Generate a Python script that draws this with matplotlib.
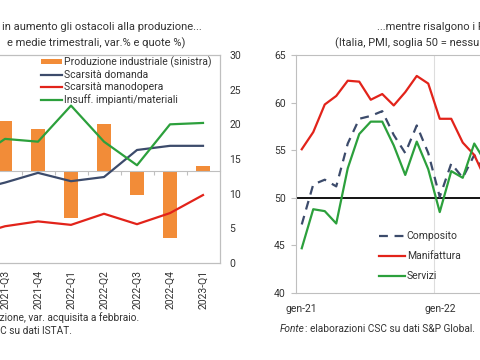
import matplotlib
matplotlib.use('Agg')
import matplotlib.pyplot as plt
import numpy as np

plt.rcParams['font.family'] = ['Roboto', 'DejaVu Sans']

# left panel: quarterly data
quarters = ['2021-Q2', '2021-Q3', '2021-Q4', '2022-Q1', '2022-Q2',
            '2022-Q3', '2022-Q4', '2023-Q1']
prod_ind = [1.1, 1.08, 0.89, -1.02, 1.0, -0.52, -1.45, 0.09]
scars_domanda = [10.4, 11.6, 13.0, 11.8, 12.4, 16.3, 16.9, 16.9]
scars_manodopera = [3.9, 5.3, 6.0, 5.5, 7.1, 5.6, 7.2, 9.8]
insuff_impianti = [14.7, 17.9, 17.5, 22.7, 17.5, 14.1, 20.0, 20.2]

# right panel: monthly PMI
months = ['gen-21', 'feb-21', 'mar-21', 'apr-21', 'mag-21', 'giu-21',
          'lug-21', 'ago-21', 'set-21', 'ott-21', 'nov-21', 'dic-21',
          'gen-22', 'feb-22', 'mar-22', 'apr-22', 'mag-22', 'giu-22']
composito = [47.2, 51.4, 51.9, 51.2, 55.7, 58.3, 58.6, 59.1, 56.6, 54.7,
             57.6, 54.7, 50.1, 53.6, 52.1, 54.5, 52.4, 51.3]
manifattura = [55.1, 56.9, 59.8, 60.7, 62.3, 62.2, 60.3, 60.9, 59.7, 61.1,
               62.8, 62.0, 58.3, 58.3, 55.8, 54.5, 51.9, 50.9]
servizi = [44.7, 48.8, 48.6, 47.3, 53.1, 56.7, 58.0, 58.0, 55.5, 52.4,
           55.9, 53.0, 48.5, 52.8, 52.1, 55.7, 53.7, 51.6]

ORANGE = '#F28C38'
BLUE = '#3C4B6B'
RED = '#E2231A'
GREEN = '#2CA03C'
FRAME = '#BFBFBF'
TXT = '#333333'

W, H = 480, 360
fig = plt.figure(figsize=(W / 100, H / 100), dpi=100)


def fx(px):
    return px / W


def fy(py):
    return 1 - py / H


# ---------------- left panel ----------------
axl = fig.add_axes([fx(-44.5), fy(263), fx(264), 208 / H])
xq = np.arange(len(quarters))
bars = axl.bar(xq, prod_ind, width=0.4, color=ORANGE, zorder=2)
axl.set_ylim(-2, 2.5)
axl.set_xlim(-0.5, len(quarters) - 0.5)
axl.spines['bottom'].set_position(('data', 0))
for s in axl.spines.values():
    s.set_color(FRAME)
    s.set_linewidth(0.8)
axl.set_xticks(xq[:-1] + 0.5)
axl.tick_params(axis='x', length=3, color=FRAME, labelbottom=False)
axl.tick_params(axis='y', length=0, labelleft=False)

sec = axl.secondary_xaxis(0)
sec.set_xticks(xq)
sec.set_xticklabels(quarters, rotation=90, fontsize=7.5, color=TXT)
sec.tick_params(length=0, pad=5)
sec.spines['bottom'].set_color(FRAME)

axr = axl.twinx()
l1, = axr.plot(xq, scars_domanda, color=BLUE, lw=1.6)
l2, = axr.plot(xq, scars_manodopera, color=RED, lw=1.6)
l3, = axr.plot(xq, insuff_impianti, color=GREEN, lw=1.6)
axr.set_ylim(0, 30)
axr.set_yticks(range(0, 31, 5))
axr.tick_params(axis='y', length=0, pad=7, labelsize=7.5, labelcolor=TXT)
for s in axr.spines.values():
    s.set_color(FRAME)
    s.set_linewidth(0.8)

axr.legend([bars, l1, l2, l3],
           ['Produzione industriale (sinistra)', 'Scarsità domanda',
            'Scarsità manodopera', 'Insuff. impianti/materiali'],
           loc='upper right', bbox_to_anchor=(0.985, 1.015), frameon=False,
           fontsize=7.5, handlelength=2.0, handleheight=0.4,
           handletextpad=0.15, labelspacing=0.22, borderaxespad=0,
           labelcolor=TXT)

fig.text(fx(202), fy(27), 'in aumento gli ostacoli alla produzione...',
         ha='right', va='center', fontsize=8.0, color=TXT)
fig.text(fx(185), fy(43), 'e medie trimestrali, var.% e quote %)',
         ha='right', va='center', fontsize=8.0, color=TXT)
fig.text(fx(139), fy(318), 'produzione, var. acquisita a febbraio.',
         ha='right', va='center', fontsize=7.3, color=TXT)
fig.text(fx(72), fy(331), 'Fonte: elaborazioni CSC su dati ISTAT.',
         ha='right', va='center', fontsize=7.3, color=TXT)

# ---------------- right panel ----------------
ax = fig.add_axes([fx(296), fy(293), fx(299), 238 / H])
xm = np.arange(len(months))
ax.axvline(11.5, color='#DDDDDD', lw=0.8, zorder=0)
ax.axhline(50, color='black', lw=1.3, zorder=1)
ax.plot(xm, composito, color=BLUE, lw=1.6, ls=(0, (4, 3)), label='Composito')
ax.plot(xm, manifattura, color=RED, lw=1.6, label='Manifattura')
ax.plot(xm, servizi, color=GREEN, lw=1.6, label='Servizi')
ax.set_xlim(-0.5, 25.5)
ax.set_ylim(40, 65)
ax.set_yticks(range(40, 66, 5))
ax.set_xticks([0, 12])
ax.set_xticklabels(['gen-21', 'gen-22'])
ax.tick_params(axis='x', length=0, pad=8, labelsize=7.5, labelcolor=TXT)
ax.tick_params(axis='y', length=3.5, color=FRAME, pad=4, labelsize=7.5,
               labelcolor=TXT)
for s in ax.spines.values():
    s.set_color(FRAME)
    s.set_linewidth(0.8)
ax.legend(loc='lower left', bbox_to_anchor=(0.262, 0.032), frameon=False,
          fontsize=7.5, handlelength=2.5, handletextpad=0.2,
          labelspacing=0.95, borderaxespad=0, labelcolor=TXT)

fig.text(fx(377), fy(27), '...mentre risalgono i PMI',
         ha='left', va='center', fontsize=8.0, color=TXT)
fig.text(fx(335), fy(43), '(Italia, PMI, soglia 50 = nessuna variazione)',
         ha='left', va='center', fontsize=8.0, color=TXT)

t1 = fig.text(fx(280), fy(329), 'Fonte', ha='left', va='center',
              fontsize=7.3, style='italic', color=TXT)
fig.canvas.draw()
bb = t1.get_window_extent()
fig.text(bb.x1 / W, fy(329), ': elaborazioni CSC su dati S&P Global.',
         ha='left', va='center', fontsize=7.3, color=TXT)

fig.savefig('out.png', dpi=100)
